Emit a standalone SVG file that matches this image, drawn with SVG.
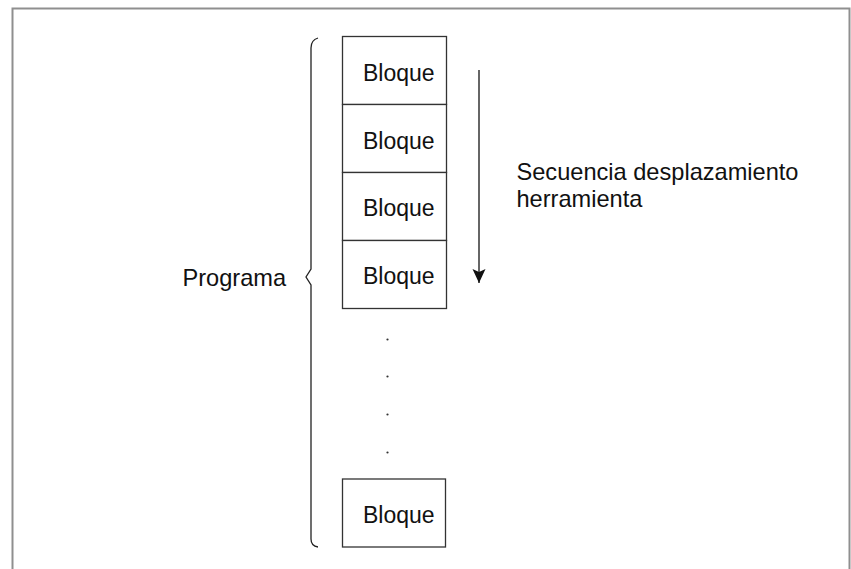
<svg xmlns="http://www.w3.org/2000/svg" width="851" height="569" viewBox="0 0 851 569">
<style>
.frame{fill:none;stroke:#8f8f8f;stroke-width:2}
.box{fill:#fff;stroke:#333;stroke-width:1.3}
.t{font-family:"Liberation Sans",Arial,Helvetica,sans-serif;font-size:23px;fill:#111}
.lbl{font-size:23.6px}
.brace{fill:none;stroke:#222;stroke-width:1.3}
.arrow{stroke:#333;stroke-width:1.5;fill:none}
.dot{fill:#333}
</style>
<defs>
<marker id="ah" markerWidth="16" markerHeight="14" refX="14" refY="7" orient="auto" markerUnits="userSpaceOnUse" viewBox="0 0 16 14">
<path d="M0,0.5 L14,7 L0,13.5 L3,7 Z" fill="#111"/>
</marker>
</defs>
<rect width="851" height="569" fill="#fff"/>
<path class="frame" d="M12.5,569 V8.5 H849.5 V569"/>
<g id="b1"><rect class="box" x="342.5" y="36.5" width="104" height="68"/><text class="t" x="363" y="81">Bloque</text></g>
<g id="b2"><rect class="box" x="342.5" y="104.5" width="104" height="68"/><text class="t" x="363" y="148.5">Bloque</text></g>
<g id="b3"><rect class="box" x="342.5" y="172.5" width="104" height="68"/><text class="t" x="363" y="216">Bloque</text></g>
<g id="b4"><rect class="box" x="342.5" y="240.5" width="104" height="68"/><text class="t" x="363" y="284">Bloque</text></g>
<g id="b5"><rect class="box" x="342.5" y="479" width="103" height="68"/><text class="t" x="363" y="522.5">Bloque</text></g>
<g id="dots">
<circle class="dot" cx="387.5" cy="339.5" r="1.1"/>
<circle class="dot" cx="387.5" cy="376.5" r="1.1"/>
<circle class="dot" cx="387.5" cy="414.5" r="1.1"/>
<circle class="dot" cx="387.5" cy="452.5" r="1.1"/>
</g>
<g id="programa">
<path class="brace" d="M318,38 Q311,40 311,48 V269 L306,277 L311,285 V539 Q311,546 318,547"/>
<text class="t lbl" x="182.5" y="286">Programa</text>
</g>
<g id="connectors">
<line class="arrow" x1="479" y1="70" x2="479" y2="283" marker-end="url(#ah)"/>
</g>
<g id="label">
<text class="t lbl" x="516.5" y="180">Secuencia desplazamiento</text>
<text class="t lbl" x="516.5" y="207">herramienta</text>
</g>
</svg>
